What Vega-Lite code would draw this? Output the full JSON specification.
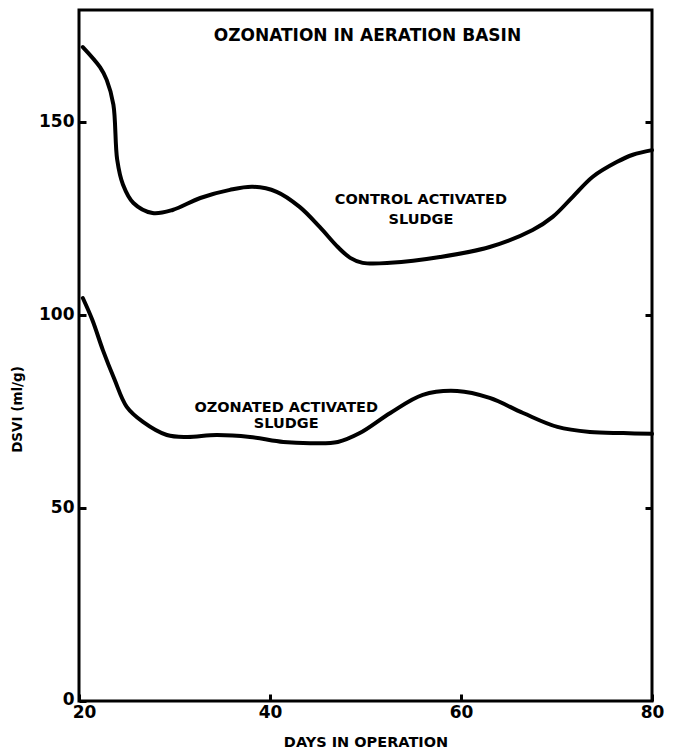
{
  "$schema": "https://vega.github.io/schema/vega-lite/v6.json",
  "width": 573,
  "height": 691,
  "autosize": "none",
  "padding": {"left": 79, "top": 10, "right": 26, "bottom": 52},
  "background": "white",
  "config": {
    "view": {"stroke": "black", "strokeWidth": 3},
    "font": "DejaVu Sans",
    "axis": {"labelFont": "DejaVu Sans", "labelFontWeight": "bold", "titleFont": "DejaVu Sans", "titleFontWeight": "bold", "labelColor": "black", "titleColor": "black", "grid": false, "domain": false, "tickColor": "black", "tickWidth": 3}
  },
  "datasets": {
    "curves": [
      {"series": "control", "day": 20.4, "dsvi": 169.4},
      {"series": "control", "day": 22.2, "dsvi": 164.2},
      {"series": "control", "day": 22.9, "dsvi": 160.9},
      {"series": "control", "day": 23.6, "dsvi": 154.5},
      {"series": "control", "day": 24.0, "dsvi": 140.2},
      {"series": "control", "day": 24.6, "dsvi": 133.8},
      {"series": "control", "day": 25.7, "dsvi": 129.0},
      {"series": "control", "day": 27.7, "dsvi": 126.4},
      {"series": "control", "day": 29.8, "dsvi": 127.2},
      {"series": "control", "day": 32.7, "dsvi": 130.3},
      {"series": "control", "day": 35.8, "dsvi": 132.4},
      {"series": "control", "day": 38.2, "dsvi": 133.2},
      {"series": "control", "day": 40.7, "dsvi": 131.9},
      {"series": "control", "day": 43.1, "dsvi": 128.0},
      {"series": "control", "day": 45.2, "dsvi": 122.8},
      {"series": "control", "day": 47.1, "dsvi": 117.6},
      {"series": "control", "day": 48.4, "dsvi": 114.8},
      {"series": "control", "day": 49.7, "dsvi": 113.5},
      {"series": "control", "day": 52.6, "dsvi": 113.5},
      {"series": "control", "day": 57.8, "dsvi": 115.0},
      {"series": "control", "day": 63.0, "dsvi": 117.6},
      {"series": "control", "day": 67.5, "dsvi": 122.0},
      {"series": "control", "day": 69.6, "dsvi": 125.4},
      {"series": "control", "day": 71.7, "dsvi": 130.6},
      {"series": "control", "day": 73.8, "dsvi": 135.8},
      {"series": "control", "day": 76.3, "dsvi": 139.6},
      {"series": "control", "day": 78.0, "dsvi": 141.5},
      {"series": "control", "day": 80.0, "dsvi": 142.7},
      {"series": "ozonated", "day": 20.4, "dsvi": 104.4},
      {"series": "ozonated", "day": 21.4, "dsvi": 98.7},
      {"series": "ozonated", "day": 22.5, "dsvi": 90.9},
      {"series": "ozonated", "day": 23.7, "dsvi": 83.4},
      {"series": "ozonated", "day": 25.0, "dsvi": 76.2},
      {"series": "ozonated", "day": 26.7, "dsvi": 72.3},
      {"series": "ozonated", "day": 29.2, "dsvi": 68.9},
      {"series": "ozonated", "day": 31.3, "dsvi": 68.4},
      {"series": "ozonated", "day": 34.4, "dsvi": 68.9},
      {"series": "ozonated", "day": 37.9, "dsvi": 68.4},
      {"series": "ozonated", "day": 41.4, "dsvi": 67.1},
      {"series": "ozonated", "day": 44.2, "dsvi": 66.8},
      {"series": "ozonated", "day": 47.1, "dsvi": 67.1},
      {"series": "ozonated", "day": 49.4, "dsvi": 69.4},
      {"series": "ozonated", "day": 52.6, "dsvi": 74.6},
      {"series": "ozonated", "day": 56.0, "dsvi": 79.3},
      {"series": "ozonated", "day": 59.6, "dsvi": 80.3},
      {"series": "ozonated", "day": 63.0, "dsvi": 78.5},
      {"series": "ozonated", "day": 66.5, "dsvi": 74.6},
      {"series": "ozonated", "day": 70.1, "dsvi": 71.0},
      {"series": "ozonated", "day": 73.5, "dsvi": 69.7},
      {"series": "ozonated", "day": 77.0, "dsvi": 69.4},
      {"series": "ozonated", "day": 80.0, "dsvi": 69.2}
    ],
    "labels": [
      {"text": "CONTROL ACTIVATED", "day": 55.8, "dsvi": 129.8},
      {"text": "SLUDGE", "day": 55.8, "dsvi": 124.6},
      {"text": "OZONATED ACTIVATED", "day": 41.7, "dsvi": 75.9},
      {"text": "SLUDGE", "day": 41.7, "dsvi": 71.8},
      {"text": "OZONATION IN AERATION BASIN", "day": 50.2, "dsvi": 172.3}
    ]
  },
  "layer": [
    {
      "data": {"name": "curves"},
      "mark": {"type": "line", "color": "black", "strokeWidth": 4, "interpolate": "catmull-rom", "strokeCap": "round"},
      "encoding": {
        "x": {"field": "day", "type": "quantitative", "scale": {"domain": [20, 80], "nice": false},
          "axis": {"orient": "bottom", "values": [20, 40, 60, 80], "tickSize": -7, "labelPadding": 10, "labelOffset": {"condition": {"test": "datum.value == 20", "value": 5}, "value": 0}, "labelFontSize": 17, "labelFlush": false, "title": "DAYS IN OPERATION", "titleFontSize": 14.5, "titlePadding": 15}},
        "y": {"field": "dsvi", "type": "quantitative", "scale": {"domain": [0, 179], "nice": false, "zero": false},
          "axis": {"orient": "left", "values": [0, 50, 100, 150], "tickSize": -7, "labelPadding": 12, "labelOffset": {"condition": {"test": "datum.value == 0", "value": -2}, "value": 0}, "labelFontSize": 17, "labelFlush": false, "title": "DSVI (ml/g)", "titleFontSize": 13.5, "titleY": 399, "titlePadding": 14}},
        "detail": {"field": "series"}
      }
    },
    {
      "data": {"name": "labels"},
      "mark": {"type": "text", "color": "black", "fontWeight": "bold", "align": "center", "baseline": "middle"},
      "encoding": {
        "x": {"field": "day", "type": "quantitative"},
        "y": {"field": "dsvi", "type": "quantitative",
          "axis": {"orient": "right", "values": [50, 100, 150], "tickSize": -7, "labels": false, "title": null}},
        "text": {"field": "text"},
        "size": {"condition": {"test": "datum.dsvi > 170", "value": 17}, "value": 14.5}
      }
    }
  ],
  "resolve": {"axis": {"y": "independent"}}
}
